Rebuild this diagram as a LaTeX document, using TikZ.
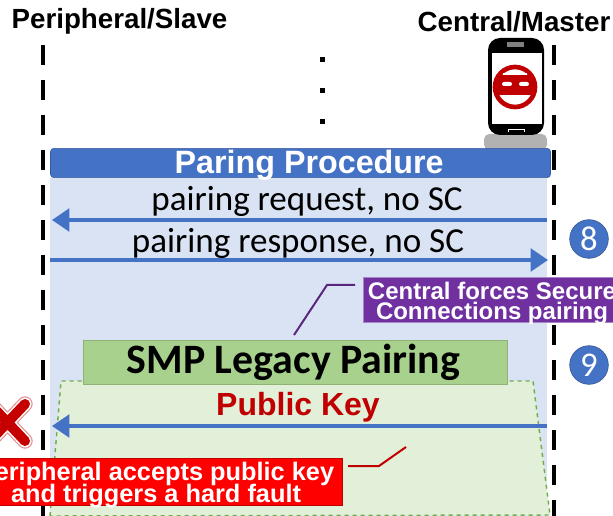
\documentclass[tikz,border=0pt]{standalone}
\usepackage{fontspec}
\setmainfont{Liberation Sans}
\newfontfamily\calibrifont{Carlito}
\usetikzlibrary{arrows.meta, positioning}
\definecolor{procblue}{HTML}{4472C4}
\definecolor{procfill}{HTML}{DAE3F3}
\definecolor{legacyfill}{HTML}{A9D18E}
\definecolor{legacyarea}{HTML}{E2F0D9}
\definecolor{legacydash}{HTML}{70AD47}
\definecolor{forcepurple}{HTML}{7030A0}
\definecolor{keyred}{HTML}{C00000}
\newcommand{\notelines}[3]{\raisebox{-7pt}[0pt][0pt]{\begin{tabular}{@{}c@{}}#2\\[#1]#3\end{tabular}}}
\tikzset{
    roleline/.style={draw=black, line width=3.6pt, dash pattern=on 15pt off 11.25pt},
    role/.style={font=\fontsize{20.8}{23}\selectfont\bfseries},
    message/.style={font=\calibrifont\fontsize{26.3}{28}\selectfont},
    connection/.style={draw=procblue, line width=2.4pt, -{Triangle[length=13pt, width=17pt]}},
    stepmark/.style={circle, draw=procblue!70!black, fill=procblue, text=white, minimum size=29pt, inner sep=0pt, font=\calibrifont\fontsize{26}{28}\selectfont},
    callout/.style={text=white, align=center, inner sep=0pt}
}
\begin{document}
\begin{tikzpicture}[x=0.75pt, y=-0.75pt]
    \clip (0,0) rectangle (613,516);
    % Lifelines
    \draw[roleline] (43,45) -- (43,516);
    \draw[roleline] (554,45) -- (554,516);
    \node[role] (peripheral) at (119.5,21) {Peripheral/Slave};
    \node[role] (central) at (514,22) {Central/Master};

    % Pairing area
    \fill[white] (47,178) rectangle (550,516);
    \fill[procfill] (50,178) rectangle (547,516);
    \draw[legacydash, fill=legacyarea, line width=1.1pt, dashed] (50,516) -- (61,381) -- (533,381) -- (550,515) -- cycle;
    \fill[black!30, rounded corners=4pt] (484,134) rectangle (547,150);
    \node[draw=procblue!80!black, fill=procblue, rounded corners=2.5pt, minimum width=375pt, minimum height=22pt, inner sep=0pt, text=white, font=\fontsize{24.2}{26}\selectfont\bfseries] (procedure) at (300.5,163) {\hspace*{13pt}\raisebox{-8.1pt}[0pt][0pt]{Paring Procedure}};

    % Dots
    \foreach \y in {60,91,122} {
        \fill (319.5,\y-2.5) rectangle (324.5,\y+2.5);
    }

    % Phone
    \fill[black, rounded corners=9pt] (488,38) rectangle (544,135);
    \fill[white] (491.5,53) rectangle (541.5,124);
    \fill[black!50] (507,42) rectangle (524,47);
    \draw[white, line width=0.6pt] (508,132) -- (508,129) -- (524,129) -- (524,132);
    \draw[keyred, line width=3.5pt] (515,87) circle (20);
    \begin{scope}
        \clip (515,87) circle (20);
        \fill[keyred] (494,75) rectangle (536,95);
    \end{scope}
    \draw[white, line width=1.2pt] (503,74) -- (527,74);
    \fill[white, rounded corners=1.5pt] (502,82) rectangle (512,86);
    \fill[white, rounded corners=1.5pt] (519,82) rectangle (529,86);

    % Messages
    \node[message] (request) at (307,201) {pairing request, no SC};
    \coordinate (reqstart) at (547,220);
    \coordinate (reqend) at (52,220);
    \draw[connection] (reqstart) -- (reqend);
    \node[message] (response) at (298,243) {pairing response, no SC};
    \coordinate (respstart) at (50,260);
    \coordinate (respend) at (548,260);
    \draw[connection] (respstart) -- (respend);
    \node[stepmark] (stepeight) at (589,239) {8};
    \node[stepmark] (stepnine) at (589,365) {9};

    % Forced pairing note
    \node[callout, fill=forcepurple, draw=forcepurple!60, minimum width=193.5pt, minimum height=34pt, font=\fontsize{18}{15}\selectfont\bfseries] (force) at (492,300) {\notelines{-2.25pt}{Central forces Secure}{Connections pairing}};
    \draw[forcepurple!80!black, line width=1.5pt] (355,285) -- (327,285) -- (294,335);

    % Legacy pairing
    \node[draw=legacyfill!85!black, fill=legacyfill, minimum width=318pt, minimum height=33pt, inner sep=0pt, font=\calibrifont\fontsize{31.4}{33}\selectfont\bfseries] (legacy) at (295.5,362.5) {\hspace*{-3pt}\raisebox{-8.5pt}[0pt][0pt]{SMP Legacy Pairing}};
    \node[text=keyred, font=\fontsize{24}{26}\selectfont\bfseries] (pubkey) at (298,407) {Public Key};
    \coordinate (keystart) at (547,426);
    \coordinate (keyend) at (52,426);
    \draw[connection] (keystart) -- (keyend);

    % Rejected marker
    \draw[keyred!45, line width=11.5pt, line cap=round] (-10,404) -- (25,441) (-10,441) -- (25,404);
    \draw[white, line width=9.8pt, line cap=round] (-10,404) -- (25,441) (-10,441) -- (25,404);
    \draw[keyred!90!red, line width=7.5pt, line cap=round] (-10,404) -- (25,441) (-10,441) -- (25,404);

    % Hard fault note
    \node[callout, fill=red, draw=keyred, minimum width=279pt, minimum height=35pt, font=\fontsize{19}{16}\selectfont\bfseries] (fault) at (156,482) {\notelines{-1.5pt}{Peripheral accepts public key}{and triggers a hard fault}};
    \draw[keyred, line width=1.5pt] (348,466) -- (379,466) -- (406,447);
\end{tikzpicture}
\end{document}
